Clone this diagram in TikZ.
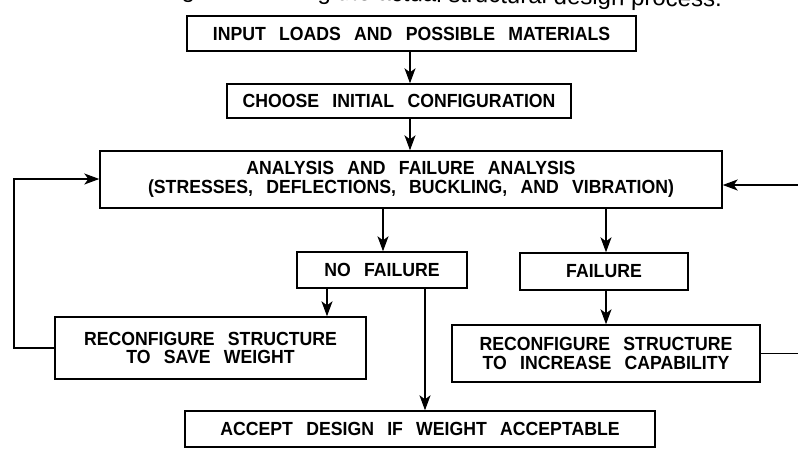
\documentclass[tikz,border=0pt]{standalone}
\usepackage{fontspec}
\setmainfont{Liberation Sans}[WordSpace=2.7, FakeStretch=0.93]
\newfontfamily\capfont{Liberation Sans}
\usetikzlibrary{arrows.meta}
\begin{document}
\begin{tikzpicture}[x=1pt,y=-1pt,
  box/.style={draw, line width=1.4pt, inner sep=0pt, align=center,
    font=\bfseries\fontsize{19}{18.8}\selectfont},
  arr/.style={line width=1.4pt, -{Stealth[length=15pt,width=11pt,inset=4pt]}},
  ln/.style={line width=1.4pt}]
\useasboundingbox (0,0) rectangle (798,451);
\clip (0,0) rectangle (798,451);
\fill[white] (0,0) rectangle (798,451);

% caption (cut off at the top)
\node[anchor=base east, inner sep=0pt, rotate=-1,
  font=\capfont\fontsize{24}{28}\selectfont] (cap) at (722,7)
  {Diagram showing the actual structural design process.};

\node[box, minimum width=449pt, minimum height=35pt] (b1) at (411.5,33.5)
  {INPUT LOADS AND POSSIBLE MATERIALS};
\node[box, minimum width=344pt, minimum height=34pt] (b2) at (399,101)
  {CHOOSE INITIAL CONFIGURATION};
\node[box, minimum width=622pt, minimum height=57pt] (b3) at (411,179.5)
  {ANALYSIS AND FAILURE ANALYSIS\\(STRESSES, DEFLECTIONS, BUCKLING, AND VIBRATION)};
\node[box, minimum width=170pt, minimum height=36pt] (nf) at (382,270)
  {NO FAILURE};
\node[box, minimum width=168pt, minimum height=37pt] (fl) at (604,271.5)
  {FAILURE};
\node[box, minimum width=311pt, minimum height=62pt] (sv) at (210.5,348)
  {RECONFIGURE STRUCTURE\\TO SAVE WEIGHT};
\node[box, minimum width=308pt, minimum height=57pt] (ic) at (606,353.5)
  {RECONFIGURE STRUCTURE\\TO INCREASE CAPABILITY};
\node[box, minimum width=470pt, minimum height=36pt] (ac) at (420,429)
  {ACCEPT DESIGN IF WEIGHT ACCEPTABLE};

\coordinate (xa) at (410,0);
\coordinate (xb) at (383,0);
\coordinate (xc) at (606,0);
\coordinate (xd) at (327,0);
\coordinate (xe) at (425,0);
\coordinate (lft) at (14,179);
\coordinate (rgt) at (812,185);

\draw[arr] (b1.south -| xa) -- (b2.north -| xa);
\draw[arr] (b2.south -| xa) -- (b3.north -| xa);
\draw[arr] (b3.south -| xb) -- (nf.north -| xb);
\draw[arr] (b3.south -| xc) -- (fl.north -| xc);
\draw[arr] (nf.south -| xd) -- (sv.north -| xd);
\draw[arr] (nf.south -| xe) -- (ac.north -| xe);
\draw[arr] (fl.south -| xc) -- (ic.north -| xc);
\draw[arr] (sv.west) -- (sv.west -| lft) -- (lft) -- (b3.west |- lft);
\draw[arr] (ic.east) -- (ic.east -| rgt) -- (rgt) -- (b3.east |- rgt);
\end{tikzpicture}
\end{document}
